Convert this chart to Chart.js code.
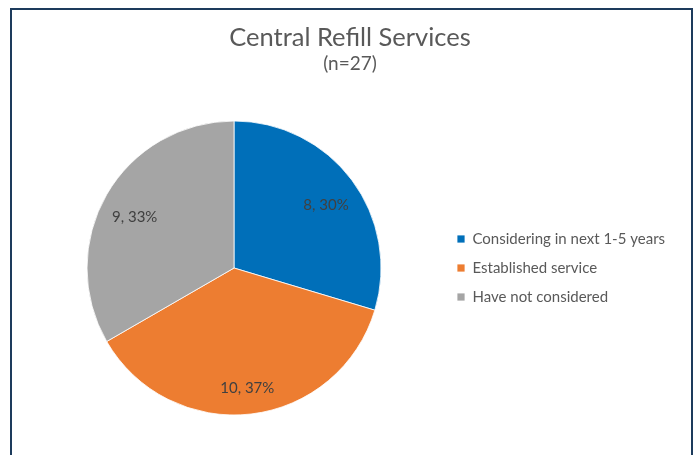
<!DOCTYPE html>
<html>
<head>
<meta charset="utf-8">
<script src="https://cdn.jsdelivr.net/npm/chart.js@4.4.1/dist/chart.umd.min.js"></script>
<style>
  html, body { margin: 0; padding: 0; background: #ffffff; }
  #wrap { position: relative; width: 695px; height: 455px; overflow: hidden; }
  #frame { position: absolute; left: 10px; top: 8px; width: 679px; height: 470px;
           border: 2.5px solid #1d3b5c; border-bottom: none; box-sizing: content-box; }
  #c { position: absolute; left: 0; top: 0; }
</style>
</head>
<body>
<div id="wrap">
  <div id="frame"></div>
  <canvas id="c" width="695" height="455"></canvas>
</div>
<script>
const titleText = 'Central Refill Services';
const subtitleText = '(n=27)';
const categories = ['Considering in next 1-5 years', 'Established service', 'Have not considered'];
const counts = [8, 10, 9];
const percentLabels = ['30%', '37%', '33%'];
const sliceColors = ['#006fb9', '#ed7d31', '#a5a5a5'];

const FONT = 'Lato, "Open Sans", sans-serif';
const LEGEND_SIZE = 15;
const LEGEND_PAD = 14;
const LEGEND_BOX = 8;
const CHART_RIGHT = 457 - LEGEND_PAD;  // where the legend column begins

const canvas = document.getElementById('c');

const sliceLabelPlugin = {
  id: 'sliceLabels',
  afterDatasetsDraw(chart) {
    const ctx = chart.ctx;
    const meta = chart.getDatasetMeta(0);
    ctx.save();
    ctx.font = '15px ' + FONT;
    ctx.fillStyle = '#404040';
    ctx.textAlign = 'center';
    ctx.textBaseline = 'middle';
    meta.data.forEach((arc, i) => {
      const p = arc.getProps(['x', 'y', 'startAngle', 'endAngle', 'outerRadius'], true);
      const mid = (p.startAngle + p.endAngle) / 2;
      const r = p.outerRadius * 0.78;
      ctx.fillText(counts[i] + ', ' + percentLabels[i], p.x + Math.cos(mid) * r, p.y + Math.sin(mid) * r + 6);
    });
    ctx.restore();
  }
};

const chart = new Chart(canvas, {
  type: 'pie',
  data: {
    labels: categories,
    datasets: [{
      data: counts,
      backgroundColor: sliceColors,
      borderColor: '#ffffff',
      borderWidth: 0.8,
      radius: 147
    }]
  },
  options: {
    responsive: false,
    animation: false,
    devicePixelRatio: 1,
    layout: { padding: { left: 25, right: 0, top: 0, bottom: 40 } },
    plugins: {
      title: {
        display: true,
        text: titleText,
        color: '#595959',
        font: { family: FONT, size: 25.5, weight: 'normal', lineHeight: 1.2 },
        padding: { top: 22, bottom: 0 }
      },
      subtitle: {
        display: true,
        text: subtitleText,
        color: '#595959',
        font: { family: FONT, size: 19, weight: 'normal', lineHeight: 1.2 },
        padding: { top: 0, bottom: 45.6 }
      },
      legend: {
        position: 'right',
        fullSize: false,
        labels: {
          boxWidth: LEGEND_BOX,
          boxHeight: LEGEND_BOX,
          padding: LEGEND_PAD,
          color: '#595959',
          font: { family: FONT, size: LEGEND_SIZE }
        }
      },
      tooltip: { enabled: false }
    }
  },
  plugins: [sliceLabelPlugin]
});

// shift the legend column so it begins where the reference's does
const legendW = chart.legend.width;
chart.options.layout.padding.right = Math.max(0, 695 - CHART_RIGHT - legendW);
chart.update();
</script>
</body>
</html>
